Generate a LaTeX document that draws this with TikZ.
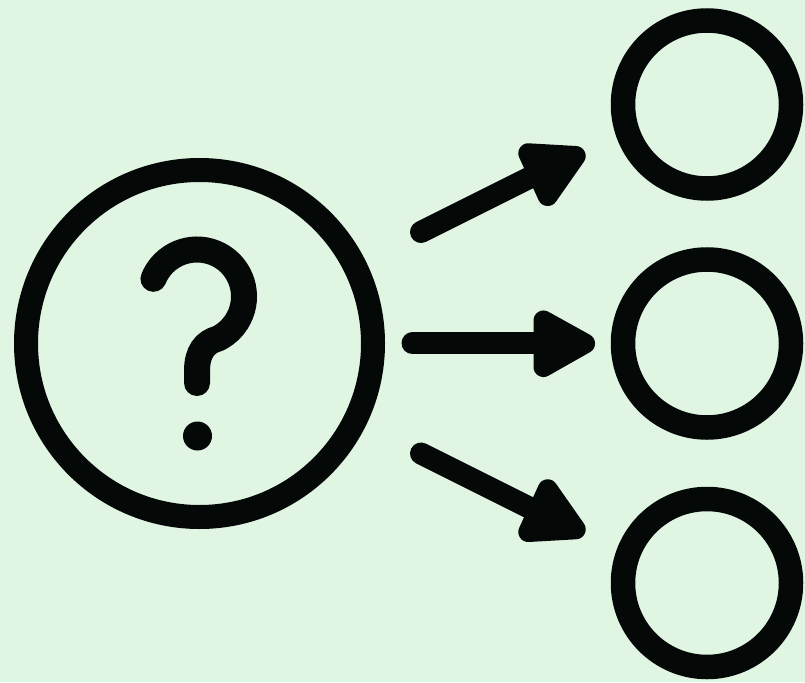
\documentclass[tikz,border=0pt]{standalone}
\definecolor{bgmint}{HTML}{E1F5E3}
\definecolor{inkdark}{HTML}{040807}
\tikzset{
  ring/.style={circle,draw=inkdark,line width=24.5pt,inner sep=0pt,outer sep=0pt,minimum size=168pt},
  bigring/.style={ring,line width=24pt,minimum size=347pt},
  shaft/.style={draw=inkdark,line width=22pt,line cap=round},
  headtip/.style={draw=inkdark,fill=inkdark,line width=20pt,line join=round},
  qmark/.style={draw=inkdark,line width=26pt,line cap=round},
  qdot/.style={circle,fill=inkdark,inner sep=0pt,minimum size=29pt}
}
\begin{document}
\begin{tikzpicture}[x=1pt,y=1pt,yscale=-1]
\fill[bgmint] (0,0) rectangle (805,682);
\useasboundingbox (0,0) rectangle (805,682);
\node[bigring] (q) at (199.5,343.5) {};
\node[ring] (a) at (707,104.5) {};
\node[ring] (b) at (707,343.5) {};
\node[ring] (c) at (707,583) {};
% question mark
\draw[qmark] (197,296.5) ++(202.1:47) arc[start angle=202.1,end angle=423.2,radius=47]
  .. controls (205,342) and (197,352) .. (197,371) -- (197,383);
\node[qdot] (dot) at (197.5,436) {};
% top arrow
\coordinate (s1) at (421,232);
\coordinate (e1) at (545,170);
\draw[shaft] (s1) -- (e1);
\draw[headtip] (528.3,153.3) -- (575.7,156) -- (547.7,196) -- cycle;
% middle arrow
\coordinate (s2) at (412.5,343.3);
\coordinate (e2) at (550,343.3);
\draw[shaft] (s2) -- (e2);
\draw[headtip] (543.5,320.5) -- (585,343.5) -- (543.5,367) -- cycle;
% bottom arrow
\coordinate (s3) at (421,453.5);
\coordinate (e3) at (545,515.5);
\draw[shaft] (s3) -- (e3);
\draw[headtip] (528.3,532) -- (575.7,529.3) -- (547.7,489.3) -- cycle;
\end{tikzpicture}
\end{document}
